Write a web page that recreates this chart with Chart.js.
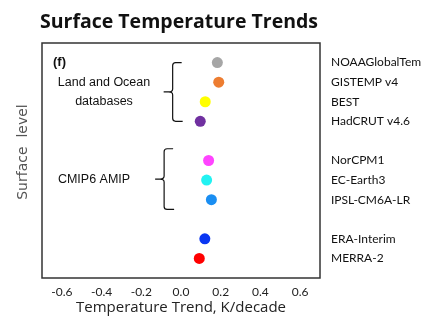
<!DOCTYPE html>
<html>
<head>
<meta charset="utf-8">
<script src="https://cdn.jsdelivr.net/npm/chart.js@4"></script>
<style>
html,body{margin:0;padding:0;background:#fff;}
#wrap{width:430px;height:327px;position:relative;}
</style>
</head>
<body>
<div id="wrap"><canvas id="c" width="430" height="327"></canvas></div>
<script>
// ---- data ----
const names = ["NOAAGlobalTem", "GISTEMP v4", "BEST", "HadCRUT v4.6", "NorCPM1", "EC-Earth3", "IPSL-CM6A-LR", "ERA-Interim", "MERRA-2"];
const rows = [1, 2, 3, 4, 6, 7, 8, 10, 11];
const trends = [0.183, 0.190, 0.122, 0.097, 0.139, 0.129, 0.153, 0.120, 0.092];
const colors = ["#a6a6a6", "#ed7d31", "#ffff00", "#7030a0", "#ff44ff", "#22f2f2", "#1a8ef2", "#0a36f2", "#ff0000"];
const xTicks = [-0.6, -0.4, -0.2, 0.0, 0.2, 0.4, 0.6];
const groups = [
  {label: ["Land and Ocean", "databases"], from: 0.95, to: 4.05, mid: 2.5, x: -0.042},
  {label: ["CMIP6 AMIP"], from: 5.35, to: 8.55, mid: 6.95, x: -0.085}
];

const rowLabel = {};
rows.forEach((r, i) => rowLabel[r] = names[i]);

const annot = {
  id: 'annot',
  afterDraw(chart) {
    const ctx = chart.ctx, a = chart.chartArea;
    const xs = chart.scales.x, ys = chart.scales.y;
    ctx.save();
    // plot box
    ctx.strokeStyle = '#333';
    ctx.lineWidth = 1.5;
    ctx.strokeRect(a.left, a.top, a.right - a.left, a.bottom - a.top);
    // title
    ctx.fillStyle = '#111';
    ctx.font = 'bold 19.5px "Open Sans"';
    ctx.textAlign = 'center';
    ctx.textBaseline = 'middle';
    ctx.fillText('Surface Temperature Trends', 179, 22);
    // y-axis title
    ctx.save();
    ctx.translate(23, 152);
    ctx.rotate(-Math.PI / 2);
    ctx.fillStyle = '#555';
    ctx.font = '14px "DejaVu Sans"';
    ctx.fillText('Surface  level', 0, 0);
    ctx.restore();
    // panel letter
    ctx.fillStyle = '#111';
    ctx.font = 'bold 13px "Liberation Sans"';
    ctx.textAlign = 'left';
    ctx.fillText('(f)', 53, ys.getPixelForValue(1));
    // braces
    ctx.strokeStyle = '#111';
    ctx.lineWidth = 1.2;
    ctx.font = '12.5px "Liberation Sans"';
    groups.forEach(g => {
      const x = xs.getPixelForValue(g.x);
      const y0 = ys.getPixelForValue(g.from), y1 = ys.getPixelForValue(g.to), ym = ys.getPixelForValue(g.mid);
      ctx.beginPath();
      ctx.moveTo(x + 9, y0 + 1);
      ctx.lineTo(x + 3, y0 + 1);
      ctx.quadraticCurveTo(x, y0 + 1, x, y0 + 4);
      ctx.lineTo(x, ym - 3);
      ctx.quadraticCurveTo(x, ym, x - 4, ym);
      ctx.lineTo(x - 9, ym);
      ctx.moveTo(x - 4, ym);
      ctx.quadraticCurveTo(x, ym, x, ym + 3);
      ctx.lineTo(x, y1 - 4);
      ctx.quadraticCurveTo(x, y1 - 1, x + 3, y1 - 1);
      ctx.lineTo(x + 10, y1 - 1);
      ctx.stroke();
      ctx.textAlign = 'center';
      if (g.label.length === 2) {
        ctx.fillText(g.label[0], 104, ys.getPixelForValue(2));
        ctx.fillText(g.label[1], 104, ys.getPixelForValue(3));
      } else {
        ctx.fillText(g.label[0], 94, ym);
      }
    });
    ctx.restore();
  }
};

new Chart(document.getElementById('c'), {
  type: 'scatter',
  data: {
    datasets: [{
      data: trends.map((t, i) => ({x: t, y: rows[i]})),
      backgroundColor: colors,
      borderColor: colors,
      pointRadius: 5.5,
      pointHoverRadius: 5.5,
      borderWidth: 0
    }]
  },
  options: {
    responsive: false,
    animation: false,
    devicePixelRatio: 1,
    layout: {padding: {top: 43, left: 42, right: 0, bottom: 0}},
    plugins: {legend: {display: false}, tooltip: {enabled: false}, title: {display: false}},
    scales: {
      x: {
        type: 'linear', min: -0.7, max: 0.7,
        afterBuildTicks: s => { s.ticks = xTicks.map(v => ({value: v})); },
        grid: {display: false, drawTicks: false},
        border: {display: false},
        ticks: {
          padding: 7, color: '#222', font: {family: 'Lato', size: 12},
          callback: v => v.toFixed(1)
        },
        title: {display: true, text: 'Temperature Trend, K/decade', color: '#222',
          font: {family: '"Open Sans"', size: 15}, padding: {top: 2, bottom: 10}},
        afterFit: s => { s.height = 49; }
      },
      y: {
        type: 'linear', position: 'right', min: 0, max: 12, reverse: true,
        afterBuildTicks: s => { s.ticks = rows.map(v => ({value: v})); },
        grid: {display: false, drawTicks: false},
        border: {display: false},
        ticks: {
          padding: 11, color: '#111', font: {family: 'Lato', size: 12},
          autoSkip: false,
          callback: v => rowLabel[v] || ''
        },
        afterFit: s => { s.width = 110; }
      }
    }
  },
  plugins: [annot]
});
</script>
</body>
</html>
